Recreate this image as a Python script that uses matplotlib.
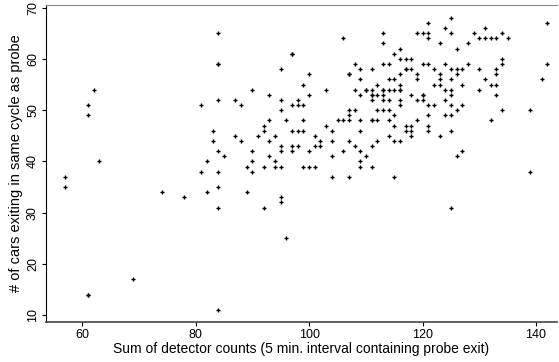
import matplotlib
matplotlib.use("Agg")
import matplotlib.pyplot as plt

plt.rcParams['font.family'] = ['Liberation Sans', 'DejaVu Sans']

# (detector count, cars exiting) pairs
points = [
    (57, 37), (57, 35), (61, 51), (61, 49), (62, 54), (63, 40), (61, 14), (61, 14),
    (69, 17), (74, 34), (78, 33),
    (81, 51), (81, 38), (82, 40), (82, 34), (83, 46), (83, 44),
    (84, 65), (84, 59), (84, 59), (84, 52), (84, 42), (84, 38), (84, 35), (84, 31), (84, 11),
    (85, 41), (87, 52), (87, 45), (88, 51), (88, 44), (89, 39), (89, 34),
    (90, 54), (90, 42), (90, 40), (90, 38), (91, 45),
    (92, 47), (92, 46), (92, 39), (92, 31),
    (93, 53), (93, 48), (93, 44), (93, 41),
    (94, 45), (94, 40), (94, 39),
    (95, 58), (95, 52), (95, 50), (95, 43), (95, 42), (95, 39), (95, 33), (95, 32),
    (96, 48), (96, 25),
    (97, 61), (97, 61), (97, 51), (97, 46), (97, 43), (97, 42),
    (98, 52), (98, 51), (98, 46), (98, 43),
    (99, 55), (99, 51), (99, 48), (99, 46), (99, 39),
    (100, 57), (100, 53), (100, 42), (100, 39),
    (101, 45), (101, 43), (101, 39), (102, 44), (102, 43),
    (103, 54), (103, 47),
    (104, 46), (104, 44), (104, 41), (104, 37),
    (105, 48), (106, 64), (106, 48), (106, 42),
    (107, 57), (107, 57), (107, 50), (107, 49), (107, 48), (107, 44), (107, 37),
    (108, 59), (108, 54), (108, 50), (108, 43),
    (109, 58), (109, 56), (109, 53), (109, 48), (109, 46), (109, 42), (109, 40), (109, 39),
    (110, 54), (110, 54), (110, 41),
    (111, 58), (111, 54), (111, 53), (111, 53), (111, 52), (111, 48), (111, 48), (111, 43), (111, 39),
    (112, 55), (112, 53), (112, 50), (112, 48), (112, 44),
    (113, 65), (113, 63), (113, 59), (113, 54), (113, 54), (113, 53), (113, 52), (113, 50),
    (114, 59), (114, 56), (114, 54), (114, 52), (114, 50), (114, 48), (114, 45),
    (115, 61), (115, 56), (115, 54), (115, 49), (115, 47), (115, 44), (115, 37),
    (116, 62), (116, 60), (116, 57), (116, 55), (116, 54), (116, 54), (116, 52), (116, 51), (116, 44),
    (117, 60), (117, 58), (117, 58), (117, 47), (117, 46),
    (118, 60), (118, 58), (118, 53), (118, 47), (118, 46), (118, 45),
    (119, 65), (119, 57), (119, 56), (119, 52), (119, 48),
    (120, 65), (120, 59), (120, 53), (120, 53), (120, 52),
    (121, 67), (121, 65), (121, 64), (121, 59), (121, 51), (121, 49), (121, 47), (121, 46),
    (122, 58), (122, 55), (122, 51),
    (123, 63), (123, 57), (123, 56), (123, 55), (123, 45),
    (124, 66), (124, 59), (124, 54), (124, 52), (124, 49),
    (125, 68), (125, 65), (125, 58), (125, 56), (125, 54), (125, 53), (125, 51), (125, 49), (125, 46), (125, 31),
    (126, 62), (126, 58), (126, 57), (126, 50), (126, 41),
    (127, 58), (127, 55), (127, 51), (127, 42),
    (128, 63), (128, 59), (129, 65),
    (130, 64), (130, 58), (130, 54),
    (131, 66), (131, 64), (131, 56),
    (132, 64), (132, 55), (132, 48),
    (133, 64), (133, 58), (133, 57), (133, 55), (133, 53),
    (134, 65), (134, 60), (134, 59), (134, 50),
    (135, 64), (139, 50), (139, 38), (141, 56), (142, 67), (142, 59),
]
det_counts = [p[0] for p in points]
cars_exit = [p[1] for p in points]

x_ticks = [60, 80, 100, 120, 140]
y_ticks = [10, 20, 30, 40, 50, 60, 70]

fig = plt.figure(figsize=(5.59, 3.62), dpi=100)
ax = fig.add_axes([46/559, 40/362, 511/559, 317/362])

ax.scatter(det_counts, cars_exit, marker='+', s=10, linewidths=1.0, color='black')

ax.set_xlim(53.6, 143.7)
ax.set_ylim(8.7, 70.5)
ax.set_xticks(x_ticks)
ax.set_yticks(y_ticks)
ax.set_yticklabels([str(v) for v in y_ticks], rotation=90, va='center')

ax.spines['right'].set_color('none')
ax.spines['top'].set_color('#888888')
ax.spines['left'].set_color('black')
ax.spines['bottom'].set_color('#444444')
ax.spines['bottom'].set_linewidth(1.2)
ax.tick_params(direction='out', length=3, width=0.8, labelsize=9, pad=2)

ax.set_xlabel('Sum of detector counts (5 min. interval containing probe exit)', fontsize=10, labelpad=1)
ax.set_ylabel('# of cars exiting in same cycle as probe', fontsize=10.5, labelpad=3)

fig.savefig('out.png', dpi=100)
